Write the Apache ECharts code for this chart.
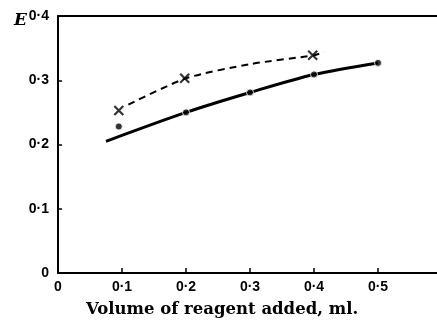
<!DOCTYPE html>
<html>
<head>
<meta charset="utf-8">
<script src="https://cdn.jsdelivr.net/npm/echarts@6/dist/echarts.min.js"></script>
<style>
  html, body { margin: 0; padding: 0; background: #fff; }
  #main { width: 437px; height: 321px; }
</style>
</head>
<body>
<div id="main"></div>
<script>
// 数据
var solidX = [0.075, 0.2, 0.3, 0.4, 0.5];
var solidY = [0.205, 0.25, 0.281, 0.309, 0.327];
var dotX = [0.095, 0.2, 0.3, 0.4, 0.5];
var dotY = [0.228, 0.25, 0.281, 0.309, 0.327];
var dashX = [0.11, 0.2, 0.3, 0.4, 0.416];
var dashY = [0.262, 0.303, 0.325, 0.339, 0.344];
var crossX = [0.095, 0.198, 0.398];
var crossY = [0.253, 0.303, 0.339];
var xTicks = [0, 0.1, 0.2, 0.3, 0.4, 0.5];
var yTicks = [0, 0.1, 0.2, 0.3, 0.4];

function pairs(xs, ys) {
  var out = [];
  for (var i = 0; i < xs.length; i++) out.push([xs[i], ys[i]]);
  return out;
}
// 0.1 -> 0·1
function fmt(v) {
  if (v === 0) return '0';
  return v.toFixed(1).replace('.', '·');
}

var crossPath = 'path://M0,0 L10,10 M10,0 L0,10';
var labelFont = { color: '#000', fontFamily: 'Liberation Sans', fontSize: 14, fontWeight: 'bold' };

var myChart = echarts.init(document.getElementById('main'));
var option = {
  animation: false,
  backgroundColor: '#fff',
  title: [
    { text: 'E', left: 9, top: 7, textStyle: { fontFamily: 'DejaVu Serif', fontStyle: 'italic', fontWeight: 'bold', fontSize: 17, color: '#000' } },
    { text: 'Volume of reagent added, ml.', left: 81, top: 296, textStyle: { fontFamily: 'DejaVu Serif', fontWeight: 'bold', fontSize: 16.5, color: '#000' } }
  ],
  grid: { left: 58, top: 16, width: 384, height: 257, outerBoundsMode: 'none', containLabel: false },
  xAxis: [{
    type: 'value', min: 0, max: 0.6, interval: 0.1,
    axisLine: { lineStyle: { color: '#000', width: 2 } },
    axisTick: { inside: true, length: 5, lineStyle: { color: '#000', width: 1.5 } },
    splitLine: { show: false },
    axisLabel: Object.assign({ margin: 7, formatter: function (v) { return xTicks.indexOf(+v.toFixed(1)) >= 0 ? fmt(v) : ''; } }, labelFont)
  }, {
    type: 'value', position: 'top', min: 0, max: 0.6,
    axisLine: { show: true, lineStyle: { color: '#000', width: 2 } },
    axisTick: { show: false }, axisLabel: { show: false }, splitLine: { show: false }
  }],
  yAxis: {
    type: 'value', min: 0, max: 0.4, interval: 0.1,
    axisLine: { show: true, lineStyle: { color: '#000', width: 2 } },
    axisTick: { show: true, inside: true, length: 4, lineStyle: { color: '#000', width: 1.5 } },
    splitLine: { show: false },
    axisLabel: Object.assign({ margin: 9, formatter: function (v) { return yTicks.indexOf(+v.toFixed(1)) >= 0 ? fmt(v) : ''; } }, labelFont)
  },
  series: [
    {
      type: 'line', data: pairs(dashX, dashY), smooth: 0.25, symbol: 'none',
      lineStyle: { color: '#000', width: 2, type: [7, 5] }
    },
    {
      type: 'line', data: pairs(solidX, solidY), smooth: 0.3, symbol: 'none',
      lineStyle: { color: '#000', width: 3 }
    },
    {
      type: 'scatter', data: pairs(dotX, dotY), symbol: 'circle', symbolSize: 7,
      itemStyle: { color: '#000', borderColor: '#fff', borderWidth: 1 }, z: 5
    },
    {
      type: 'scatter', data: pairs(crossX, crossY), symbol: crossPath, symbolSize: 9,
      itemStyle: { color: 'none', borderColor: '#000', borderWidth: 2.2 }, z: 5
    }
  ]
};
myChart.setOption(option);
</script>
</body>
</html>
